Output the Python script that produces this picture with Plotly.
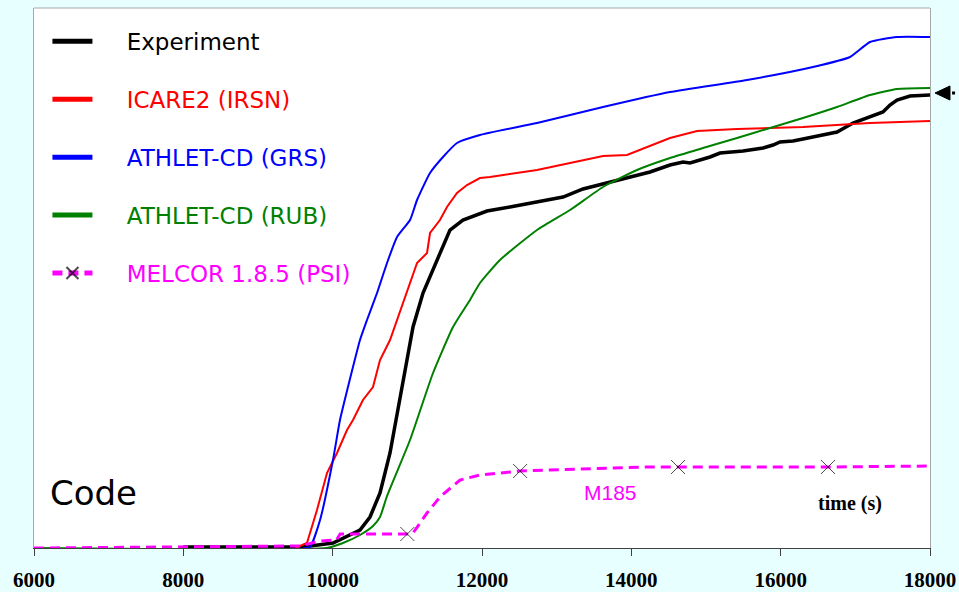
import plotly.graph_objects as go

# ---- data (time in s, response in arbitrary units) ----
exp_t = [8000, 9000, 9600, 10004, 10366, 10500, 10634, 10768, 10902, 10996, 11076, 11210, 11397,
         11571, 11745, 11973, 12067, 12375, 12683, 13085, 13353, 13621, 13942, 14250, 14518,
         14692, 14786, 15054, 15188, 15496, 15764, 15898, 15991, 16165, 16299, 16567, 16755,
         16969, 17196, 17370, 17464, 17558, 17732, 18000]
exp_v = [1, 1, 1, 5, 18, 31, 55, 95, 148, 188, 221, 255, 288,
         318, 328, 335, 337, 341, 345, 351, 359, 364, 370, 376, 383,
         386, 385, 391, 395, 397, 400, 403, 406, 407, 409, 413, 416,
         425, 431, 436, 443, 448, 452, 453]

icare_t = [9500, 9656, 9790, 9924, 10058, 10192, 10272, 10406, 10540, 10634, 10768, 10875, 10996,
           11130, 11264, 11304, 11437, 11531, 11665, 11799, 11973, 12107, 12737, 13179, 13621,
           13942, 14210, 14518, 14880, 15415, 16299, 17196, 18000]
icare_v = [0, 5, 38, 75, 95, 118, 128, 148, 161, 188, 208, 231, 255,
           285, 295, 315, 328, 341, 355, 363, 370, 371, 378, 385, 392,
           393, 401, 410, 417, 419, 421, 425, 427]

grs_t = [9600, 9697, 9831, 10004, 10098, 10205, 10272, 10366, 10460, 10594, 10728, 10862, 11036,
         11130, 11304, 11478, 11665, 11973, 12737, 13621, 14518, 15549, 16433, 16929, 17196,
         17558, 18000]
grs_v = [0, 1, 28, 88, 128, 161, 181, 208, 228, 255, 285, 311, 328,
         348, 375, 391, 405, 413, 425, 441, 456, 468, 481, 491, 506,
         511, 511]

rub_t = [6000, 9924, 10138, 10366, 10540, 10634, 10728, 11036, 11344, 11612, 11839, 11973, 12241,
         12737, 13179, 13621, 14076, 14518, 14960, 15415, 15857, 16299, 16755, 17196, 17558, 18000]
rub_v = [0, 0, 5, 13, 22, 31, 52, 108, 175, 221, 248, 265, 288,
         318, 338, 361, 378, 390, 400, 410, 420, 430, 441, 453, 459, 460]

mel_t = [6000, 9560, 9830, 10050, 10100, 11000, 11076, 11264, 11437, 11705, 11973, 12510,
         13312, 14210, 14625, 16634, 18000]
mel_v = [0, 2, 7, 8, 14, 14, 15, 35, 51, 68, 73, 77,
         79, 81, 81, 81, 82]
mel_marked = [11000, 12510, 14625, 16634]

x_ticks = [6000, 8000, 10000, 12000, 14000, 16000, 18000]

NB = "\u00a0" * 4

fig = go.Figure()
fig.add_trace(go.Scatter(x=exp_t, y=exp_v, mode="lines", name=NB + "Experiment",
                         line=dict(color="black", width=3.5), legendgroup="a"))
fig.add_trace(go.Scatter(x=icare_t, y=icare_v, mode="lines",
                         name=NB + "<span style='color:#FF0000'>ICARE2 (IRSN)</span>",
                         line=dict(color="#FF0000", width=2), legendgroup="b"))
fig.add_trace(go.Scatter(x=grs_t, y=grs_v, mode="lines",
                         name=NB + "<span style='color:#0000FF'>ATHLET-CD (GRS)</span>",
                         line=dict(color="#0000FF", width=2, shape="spline", smoothing=0.5),
                         legendgroup="c"))
fig.add_trace(go.Scatter(x=rub_t, y=rub_v, mode="lines",
                         name=NB + "<span style='color:#008000'>ATHLET-CD (RUB)</span>",
                         line=dict(color="#008000", width=2, shape="spline", smoothing=0.5),
                         legendgroup="d"))
fig.add_trace(go.Scatter(x=mel_t, y=mel_v, mode="lines+markers",
                         name=NB + "<span style='color:#FF00FF'>MELCOR 1.8.5 (PSI)</span>",
                         line=dict(color="#FF00FF", width=3, dash="10px,6px"),
                         marker=dict(symbol="x-thin", color="black",
                                     size=[14 if t in mel_marked else 0 for t in mel_t],
                                     line=dict(color="black", width=1)),
                         legendgroup="e"))

fig.update_layout(
    width=959, height=592,
    margin=dict(l=34, r=29, t=8, b=44, autoexpand=False),
    paper_bgcolor="#E8FFFF",
    plot_bgcolor="white",
    showlegend=True,
    legend=dict(x=0.015, y=0.978, xanchor="left", yanchor="top",
                bgcolor="rgba(0,0,0,0)", font=dict(family="DejaVu Sans", size=23, color="black"),
                tracegroupgap=25, traceorder="grouped", itemsizing="constant", itemwidth=40),
    xaxis=dict(range=[6000, 18000], tickvals=x_ticks, ticktext=[str(v) for v in x_ticks],
               showgrid=False, zeroline=False, showline=True, linecolor="#404040", linewidth=1,
               ticks="outside", ticklen=7, tickcolor="#404040", ticklabelstandoff=6,
               tickfont=dict(family="Liberation Serif", size=21, color="black", weight="bold"),
               automargin=False),
    yaxis=dict(range=[0, 540], showticklabels=False, showgrid=False, zeroline=False,
               showline=True, linecolor="#A8A8A8", linewidth=1, mirror=True, ticks="",
               automargin=False),
    shapes=[
        dict(type="line", xref="paper", yref="paper", x0=0, x1=1, y0=1, y1=1,
             line=dict(color="#A8A8A8", width=1)),
        dict(type="path", xref="paper", yref="paper",
             path="M 1.0056,0.8426 L 1.0223,0.8556 L 1.0223,0.8296 Z",
             fillcolor="black", line=dict(color="black", width=1)),
        dict(type="line", xref="paper", yref="paper", x0=1.0246, x1=1.04, y0=0.8426, y1=0.8426,
             line=dict(color="black", width=3, dash="3px,5px")),
    ],
    annotations=[
        dict(text="Code", xref="paper", yref="paper", x=0.0156, y=0.102, xanchor="left",
             yanchor="middle", showarrow=False,
             font=dict(family="DejaVu Sans", size=34, color="black")),
        dict(text="M185", xref="paper", yref="paper", x=0.643, y=0.1037, xanchor="center",
             yanchor="middle", showarrow=False,
             font=dict(family="Liberation Sans", size=21, color="#FF00FF")),
        dict(text="<b>time (s)</b>", xref="paper", yref="paper", x=0.9107, y=0.0833,
             xanchor="center", yanchor="middle", showarrow=False,
             font=dict(family="Liberation Serif", size=20, color="black")),
    ],
)

fig.write_html("out.html", config={"displayModeBar": False},
               post_script="document.body.style.margin='0';")
